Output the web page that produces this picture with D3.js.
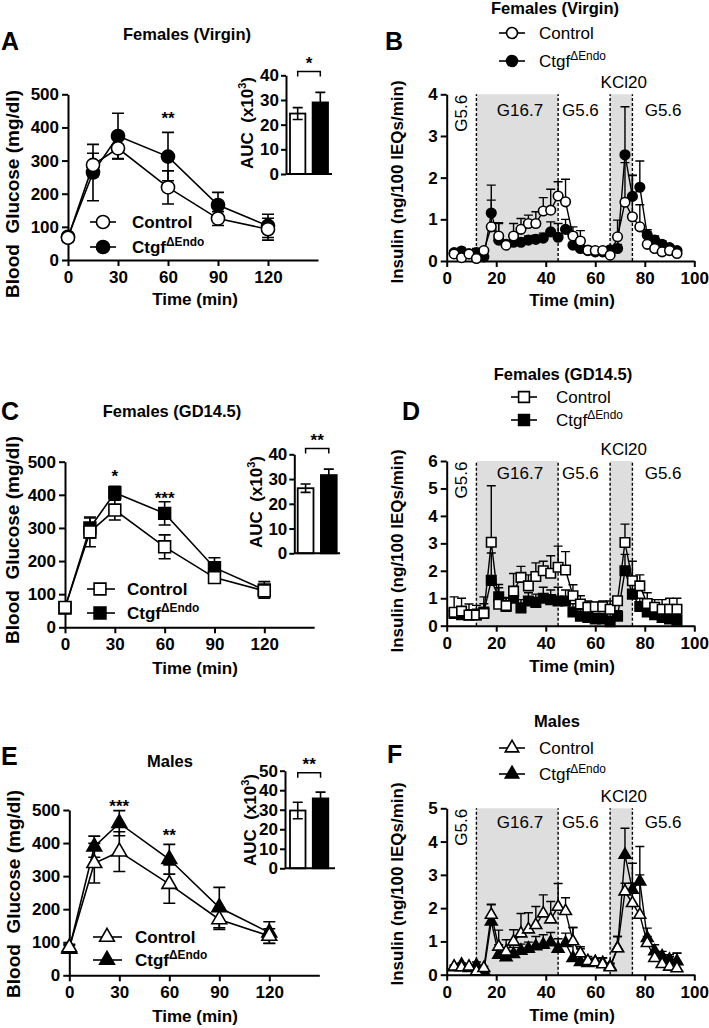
<!DOCTYPE html>
<html><head><meta charset="utf-8">
<script src="https://cdn.jsdelivr.net/npm/d3@7"></script>
<style>body{margin:0;background:#fff} svg{display:block}</style>
</head><body>
<svg id="fig" width="709" height="1028"></svg>
<script>
// ---------------- DATA ----------------
const gttTime = [0, 15, 30, 60, 90, 120];
const gttTicks = [0, 30, 60, 90, 120];
const glucoseTicks = [0, 100, 200, 300, 400, 500];
const legendNames = ["Control", "Ctgf"];
const legendSup = "\u0394Endo";
const aucGroups = ["Control", "Ctgf"];

// Panel A — Females (Virgin) GTT
const aControl = [67, 287, 337, 219, 125, 93];
const aControlErr = [12, 35, 31, 50, 21, 33];
const aKO = [70, 264, 374, 312, 166, 103];
const aKOErr = [10, 85, 69, 73, 38, 35];
const aAUC = [24.5, 29.0];
const aAUCErr = [2.4, 4.1];
const aAUCTicks = [0, 10, 20, 30, 40];
const aStars = [{t: 60, v: 437, s: "**"}];
const aAUCStar = "*";

// Panel C — Females (GD14.5) GTT
const cControl = [60, 288, 354, 243, 150, 110];
const cControlErr = [12, 45, 30, 36, 15, 17];
const cKO = [58, 300, 406, 344, 180, 113];
const cKOErr = [10, 30, 20, 35, 30, 25];
const cAUC = [26.3, 31.6];
const cAUCErr = [1.7, 2.4];
const cAUCTicks = [0, 10, 20, 30, 40];
const cStars = [{t: 30, v: 466, s: "*"}, {t: 60, v: 400, s: "***"}];
const cAUCStar = "**";

// Panel E — Males GTT
const eControl = [84, 339, 374, 276, 169, 119];
const eControlErr = [10, 60, 60, 58, 30, 22];
const eKO = [80, 389, 460, 351, 205, 129];
const eKOErr = [10, 32, 38, 45, 61, 33];
const eAUC = [29.6, 35.8];
const eAUCErr = [4.2, 3.2];
const eAUCTicks = [0, 10, 20, 30, 40, 50];
const eStars = [{t: 30, v: 522, s: "***"}, {t: 60, v: 434, s: "**"}];
const eAUCStar = "**";

// Perifusion
const periTime = [3,6,9,12,15,18,21,24,27,30,33,36,39,42,45,48,51,54,57,60,63,66,69,72,75,78,81,84,87,90,93];
const periTicks = [0, 20, 40, 60, 80, 100];
const periBands = [[12, 45], [66, 75]];
const periDashes = [12, 45, 66, 75];
const periLabels = [{t: 29.6, s: "G16.7"}, {t: 54, s: "G5.6"}, {t: 87.4, s: "G5.6"}];
const periRotLabel = {t: 5.8, s: "G5.6"};
const kclLabel = {t: 71.5, s: "KCl20"};

// Panel B — Females (Virgin)
const bControl = [0.17,0.08,0.17,0.06,0.25,0.82,0.60,0.38,0.60,0.76,0.90,0.90,1.20,1.22,1.56,1.42,0.60,0.48,0.26,0.25,0.25,0.14,0.58,1.41,1.06,0.82,0.40,0.30,0.22,0.25,0.18];
const bControlErr = [0.05,0.05,0.05,0.05,0.05,0.64,0.32,0.10,0.30,0.26,0.20,0.28,0.32,0.50,0.34,0.54,0.22,0.25,0.08,0.06,0.05,0.05,0.40,0.95,1.00,0.53,0.30,0.10,0.08,0.06,0.05];
const bKO = [0.20,0.24,0.17,0.20,0.10,1.15,0.50,0.40,0.45,0.45,0.50,0.52,0.55,0.70,0.57,0.76,0.38,0.30,0.25,0.22,0.22,0.27,0.30,2.55,1.55,1.77,0.62,0.50,0.40,0.32,0.25];
const bKOErr = [0.04,0.05,0.04,0.10,0.05,0.67,0.40,0.08,0.12,0.10,0.10,0.10,0.12,0.24,0.33,0.24,0.30,0.25,0.10,0.06,0.06,0.05,0.10,1.15,0.50,0.63,0.13,0.10,0.08,0.06,0.05];
const bTicks = [0, 1, 2, 3, 4];

// Panel D — Females (GD14.5)
const dControl = [0.49,0.53,0.39,0.39,0.45,3.04,0.78,0.73,1.26,1.76,1.45,1.79,2.00,1.91,2.13,2.03,1.09,0.79,0.67,0.69,0.69,0.60,0.91,3.03,1.64,1.45,0.81,0.67,0.60,0.60,0.60];
const dControlErr = [0.56,0.47,0.40,0.35,0.60,2.06,0.60,0.30,0.64,0.40,0.40,0.50,0.35,0.64,0.77,0.67,0.40,0.30,0.23,0.16,0.21,0.30,0.10,0.67,0.71,0.40,0.39,0.28,0.35,0.40,0.40];
const dKO = [0.45,0.40,0.38,0.40,0.50,1.65,1.05,0.70,1.00,0.65,0.90,0.85,1.00,0.95,0.90,0.90,0.50,0.35,0.30,0.25,0.25,0.15,0.35,2.00,1.15,0.70,0.50,0.40,0.30,0.25,0.20];
const dKOErr = [0.20,0.20,0.20,0.20,0.30,1.00,0.45,0.30,0.30,0.30,0.30,0.30,0.40,0.35,0.50,0.40,0.30,0.25,0.20,0.20,0.20,0.20,0.20,0.60,0.35,0.30,0.25,0.20,0.20,0.20,0.20];
const dTicks = [0, 1, 2, 3, 4, 5, 6];

// Panel F — Males
const fControl = [0.24,0.22,0.24,0.10,0.20,1.80,0.84,0.69,0.99,1.24,1.36,1.49,1.84,1.66,2.04,1.91,1.00,0.64,0.41,0.37,0.31,0.22,0.79,2.50,2.15,1.80,0.95,0.50,0.32,0.24,0.19];
const fControlErr = [0.05,0.05,0.05,0.05,0.05,0.30,0.50,0.36,0.36,0.60,0.50,0.56,0.56,0.54,0.70,0.40,0.42,0.20,0.14,0.13,0.20,0.10,0.36,0.25,0.60,1.20,0.20,0.20,0.28,0.30,0.45];
const fKO = [0.22,0.30,0.20,0.28,0.10,1.60,0.60,0.52,0.62,0.72,0.78,0.85,0.90,0.97,0.78,0.95,0.50,0.38,0.35,0.38,0.35,0.25,0.80,3.60,2.55,2.80,1.10,0.70,0.55,0.45,0.40];
const fKOErr = [0.05,0.05,0.05,0.10,0.05,0.52,0.30,0.20,0.20,0.20,0.20,0.30,0.30,0.30,0.30,0.30,0.92,0.40,0.10,0.10,0.15,0.10,0.35,0.80,0.80,1.05,0.30,0.20,0.15,0.15,0.25];
const fTicks = [0, 1, 2, 3, 4, 5];

// ---------------- DRAWING ----------------
const FONT = "'Liberation Sans', Arial, Helvetica, sans-serif";
const svg = d3.select('#fig');
const intFmt = d3.format('d');

function styleAxis(g, fs) {
  g.attr('font-family', FONT).attr('font-size', fs).attr('font-weight', 'bold');
  g.selectAll('path.domain').attr('stroke', '#000').attr('stroke-width', 2);
  g.selectAll('.tick line').attr('stroke', '#000').attr('stroke-width', 2);
  g.selectAll('.tick text').attr('fill', '#000');
}

function marker(g, type, filled, x, y, size) {
  g.append('path').attr('d', d3.symbol().type(type).size(size)())
    .attr('transform', `translate(${x},${y})`)
    .attr('fill', filled ? '#000' : '#fff').attr('stroke', '#000').attr('stroke-width', 1.6);
}

function text(g, x, y, s, opt = {}) {
  return g.append('text').attr('x', x).attr('y', y).text(s)
    .attr('font-family', FONT).attr('font-size', opt.fs || 17)
    .attr('font-weight', opt.bold === false ? 'normal' : 'bold')
    .attr('text-anchor', opt.anchor || 'start').attr('fill', '#000');
}

function rotText(g, cx, cy, s, opt = {}) {
  return g.append('text').attr('transform', `translate(${cx},${cy}) rotate(-90)`)
    .attr('dy', '0.36em').text(s)
    .attr('font-family', FONT).attr('font-size', opt.fs || 17)
    .attr('font-weight', opt.bold === false ? 'normal' : 'bold')
    .attr('text-anchor', 'middle').attr('fill', '#000');
}

function legendKO(g, x, y, bold, fs) {
  const t = text(g, x, y, legendNames[1], {fs: fs, bold: bold});
  t.append('tspan').attr('dy', -7).attr('font-size', fs * 0.7).text(legendSup);
}

function gttPanel(L, ctrl, ctrlErr, ko, koErr, auc, aucErr, aucTicks, stars, aucStar, symType, symSize) {
  const g = svg.append('g');
  const x = d3.scaleLinear().domain([0, 150]).range([L.x0, L.x0 + (L.x120 - L.x0) * 150 / 120]);
  const y = d3.scaleLinear().domain([0, 500]).range([L.y0, L.yTop]);

  text(g, L.letter[1], L.letter[2], L.letter[0], {fs: 25});
  text(g, L.title[1], L.title[2], L.title[0], {fs: 16.5, anchor: 'middle'});

  const ax = g.append('g').attr('transform', `translate(0,${L.y0})`)
    .call(d3.axisBottom(x).tickValues(gttTicks).tickSize(6).tickSizeOuter(0).tickPadding(5));
  styleAxis(ax, 17);
  const ay = g.append('g').attr('transform', `translate(${L.x0},0)`)
    .call(d3.axisLeft(y).tickValues(glucoseTicks).tickSize(6).tickSizeOuter(0).tickPadding(3));
  styleAxis(ay, 17);

  rotText(g, L.yLab[0], L.yLab[1], 'Blood\u00a0\u00a0Glucose (mg/dl)', {fs: 19});
  text(g, L.xTitle[0], L.xTitle[1], 'Time (min)', {fs: 17, anchor: 'middle'});

  const line = d3.line().x((d, i) => x(gttTime[i])).y(d => y(d));
  const series = [{v: ko, e: koErr, f: true}, {v: ctrl, e: ctrlErr, f: false}];
  series.forEach(s => {
    s.v.forEach((v, i) => {
      const cx = x(gttTime[i]);
      g.append('path').attr('d', `M${cx},${y(v - s.e[i])}V${y(v + s.e[i])}M${cx - 6},${y(v + s.e[i])}H${cx + 6}M${cx - 6},${y(v - s.e[i])}H${cx + 6}`)
        .attr('stroke', '#000').attr('stroke-width', 1.6).attr('fill', 'none');
    });
  });
  series.forEach(s => {
    g.append('path').attr('d', line(s.v)).attr('fill', 'none').attr('stroke', '#000').attr('stroke-width', 1.6);
  });
  series.forEach(s => {
    s.v.forEach((v, i) => marker(g, symType, s.f, x(gttTime[i]), y(v), symSize));
  });

  stars.forEach(st => text(g, x(st.t), y(st.v) + 9, st.s, {fs: 17, anchor: 'middle'}));

  // legend
  [0, 1].forEach(k => {
    const ly = L.leg.rows[k];
    g.append('line').attr('x1', L.leg.x1).attr('x2', L.leg.x2).attr('y1', ly).attr('y2', ly)
      .attr('stroke', '#000').attr('stroke-width', 1.6);
    marker(g, symType, k === 1, L.leg.m, ly, symSize);
  });
  text(g, L.leg.tx, L.leg.rows[0] + 6, legendNames[0], {fs: 17});
  legendKO(g, L.leg.tx, L.leg.rows[1] + 6, true, 17);

  // inset AUC
  const I = L.inset;
  const iy = d3.scaleLinear().domain([0, aucTicks[aucTicks.length - 1]]).range([I.y0, I.yTop]);
  const ib = d3.scaleBand().domain(aucGroups).range([I.barL, I.barR]).paddingInner(0.32);
  const iax = g.append('g').attr('transform', `translate(${I.ax},0)`)
    .call(d3.axisLeft(iy).tickValues(aucTicks).tickSize(5).tickSizeOuter(0).tickPadding(2));
  styleAxis(iax, 17);
  aucGroups.forEach((k, i) => {
    const bx = ib(k), bw = ib.bandwidth(), cx = bx + bw / 2;
    g.append('rect').attr('x', bx).attr('y', iy(auc[i])).attr('width', bw).attr('height', I.y0 - iy(auc[i]))
      .attr('fill', i ? '#000' : '#fff').attr('stroke', '#000').attr('stroke-width', 1.8);
    g.append('path').attr('d', `M${cx},${iy(auc[i] - aucErr[i])}V${iy(auc[i] + aucErr[i])}M${cx - 5},${iy(auc[i] + aucErr[i])}H${cx + 5}M${cx - 5},${iy(auc[i] - aucErr[i])}H${cx + 5}`)
      .attr('stroke', '#000').attr('stroke-width', 1.6).attr('fill', 'none');
  });
  g.append('line').attr('x1', I.ax).attr('x2', I.xEnd).attr('y1', I.y0).attr('y2', I.y0)
    .attr('stroke', '#000').attr('stroke-width', 2);
  const bx1 = ib(aucGroups[0]) + ib.bandwidth() / 2, bx2 = ib(aucGroups[1]) + ib.bandwidth() / 2;
  const by = iy(I.bracket);
  g.append('path').attr('d', `M${bx1},${by + 5}V${by}H${bx2}V${by + 5}`).attr('fill', 'none')
    .attr('stroke', '#000').attr('stroke-width', 1.5);
  text(g, (bx1 + bx2) / 2, by - 3, aucStar, {fs: 17, anchor: 'middle'});
  const lab = g.append('text').attr('transform', `translate(${I.lab[0]},${I.lab[1]}) rotate(-90)`)
    .attr('dy', '0.36em').attr('font-family', FONT).attr('font-size', 17).attr('font-weight', 'bold')
    .attr('text-anchor', 'middle').attr('fill', '#000');
  lab.append('tspan').text('AUC\u00a0\u00a0(x10');
  lab.append('tspan').attr('dy', -7).attr('font-size', 11).text('3');
  lab.append('tspan').attr('dy', 7).text(')');
}

function periPanel(L, ctrl, ctrlErr, ko, koErr, yTicks, symType, symSize) {
  const g = svg.append('g');
  const yMax = yTicks[yTicks.length - 1];
  const x = d3.scaleLinear().domain([0, 100]).range([446.7, 694.3]);
  const y = d3.scaleLinear().domain([0, yMax]).range([L.y0, L.yTop]);

  text(g, L.letter[1], L.letter[2], L.letter[0], {fs: 25});
  text(g, L.title[1], L.title[2], L.title[0], {fs: 16.5, anchor: 'middle'});

  periBands.forEach(b => {
    g.append('rect').attr('x', x(b[0])).attr('y', y(yMax)).attr('width', x(b[1]) - x(b[0]))
      .attr('height', y(0) - y(yMax)).attr('fill', '#dedede');
  });
  periDashes.forEach(t => {
    g.append('line').attr('x1', x(t)).attr('x2', x(t)).attr('y1', y(0)).attr('y2', y(yMax))
      .attr('stroke', '#000').attr('stroke-width', 1.4).attr('stroke-dasharray', '3,2');
  });

  const ax = g.append('g').attr('transform', `translate(0,${L.y0})`)
    .call(d3.axisBottom(x).tickValues(periTicks).tickFormat(intFmt).tickSize(6).tickSizeOuter(0).tickPadding(5));
  styleAxis(ax, 17);
  const ay = g.append('g').attr('transform', `translate(446.7,0)`)
    .call(d3.axisLeft(y).tickValues(yTicks).tickFormat(intFmt).tickSize(6).tickSizeOuter(0).tickPadding(3));
  styleAxis(ay, 17);

  rotText(g, 397, L.yLab, 'Insulin (ng/100 IEQs/min)', {fs: 17});
  text(g, 572, L.xTitle, 'Time (min)', {fs: 17, anchor: 'middle'});

  // condition labels
  const top = y(yMax);
  periLabels.forEach(p => text(g, x(p.t), top + L.labOff, p.s, {fs: 17, bold: false, anchor: 'middle'}));
  rotText(g, x(periRotLabel.t), top + 19, periRotLabel.s, {fs: 17, bold: false});
  text(g, x(kclLabel.t), top - 6, kclLabel.s, {fs: 17, bold: false, anchor: 'middle'});

  const line = d3.line().x((d, i) => x(periTime[i])).y(d => y(d));
  const series = [{v: ko, e: koErr, f: true}, {v: ctrl, e: ctrlErr, f: false}];
  series.forEach(s => {
    s.v.forEach((v, i) => {
      const cx = x(periTime[i]);
      g.append('path').attr('d', `M${cx},${y(v)}V${y(v + s.e[i])}M${cx - 4.5},${y(v + s.e[i])}H${cx + 4.5}`)
        .attr('stroke', '#000').attr('stroke-width', 1.4).attr('fill', 'none');
    });
  });
  series.forEach(s => {
    g.append('path').attr('d', line(s.v)).attr('fill', 'none').attr('stroke', '#000').attr('stroke-width', 1.4);
  });
  series.forEach(s => {
    s.v.forEach((v, i) => marker(g, symType, s.f, x(periTime[i]), y(v), symSize));
  });

  // legend
  [0, 1].forEach(k => {
    const ly = L.leg.rows[k];
    g.append('line').attr('x1', L.leg.m - 13).attr('x2', L.leg.m + 13).attr('y1', ly).attr('y2', ly)
      .attr('stroke', '#000').attr('stroke-width', 1.6);
    marker(g, symType, k === 1, L.leg.m, ly, symSize * 1.3);
  });
  text(g, L.leg.tx, L.leg.rows[0] + 6, legendNames[0], {fs: 17, bold: false});
  legendKO(g, L.leg.tx, L.leg.rows[1] + 6, false, 17);
}

// ---------------- LAYOUT ----------------
gttPanel({letter: ['A', 1, 50], title: ['Females (Virgin)', 187, 40],
  x0: 68, x120: 268, y0: 260, yTop: 94.3, yLab: [12, 194], xTitle: [195, 305],
  leg: {x1: 90, x2: 116, m: 103, rows: [222, 247], tx: 132},
  inset: {ax: 286, xEnd: 332, y0: 174, yTop: 75.3, barL: 290, barR: 328, lab: [247, 123], bracket: 41.5}},
  aControl, aControlErr, aKO, aKOErr, aAUC, aAUCErr, aAUCTicks, aStars, aAUCStar, d3.symbolCircle, 135);

gttPanel({letter: ['C', 1, 420], title: ['Females (GD14.5)', 172, 417],
  x0: 65, x120: 264.3, y0: 627.3, yTop: 461.7, yLab: [12, 540], xTitle: [195, 674],
  leg: {x1: 87, x2: 115, m: 100, rows: [589, 613], tx: 127},
  inset: {ax: 294.3, xEnd: 340, y0: 553.3, yTop: 454.3, barL: 297.7, barR: 336.7, lab: [256, 502], bracket: 42.3}},
  cControl, cControlErr, cKO, cKOErr, cAUC, cAUCErr, cAUCTicks, cStars, cAUCStar, d3.symbolSquare, 140);

gttPanel({letter: ['E', 1, 765], title: ['Males', 170, 767],
  x0: 69.3, x120: 269.3, y0: 975.3, yTop: 810, yLab: [13, 894], xTitle: [195, 1022],
  leg: {x1: 93, x2: 122, m: 107, rows: [937, 960], tx: 135},
  inset: {ax: 285, xEnd: 335, y0: 868.3, yTop: 770.7, barL: 290, barR: 328.3, lab: [250, 820], bracket: 49}},
  eControl, eControlErr, eKO, eKOErr, eAUC, eAUCErr, eAUCTicks, eStars, eAUCStar, d3.symbolTriangle, 95);

periPanel({letter: ['B', 385, 50], title: ['Females (Virgin)', 555, 14], y0: 261, yTop: 94.3,
  yLab: 182, xTitle: 306, labOff: 22, leg: {m: 512, rows: [33, 61], tx: 539}},
  bControl, bControlErr, bKO, bKOErr, bTicks, d3.symbolCircle, 72);

periPanel({letter: ['D', 402, 420], title: ['Females (GD14.5)', 563, 380], y0: 625.7, yTop: 461,
  yLab: 551, xTitle: 672, labOff: 18, leg: {m: 524, rows: [397, 420], tx: 556}},
  dControl, dControlErr, dKO, dKOErr, dTicks, d3.symbolSquare, 90);

periPanel({letter: ['F', 387, 763], title: ['Males', 557, 727], y0: 974.7, yTop: 808.3,
  yLab: 884, xTitle: 1021, labOff: 20, leg: {m: 512, rows: [748, 774], tx: 539}},
  fControl, fControlErr, fKO, fKOErr, fTicks, d3.symbolTriangle, 60);
</script>
</body></html>
